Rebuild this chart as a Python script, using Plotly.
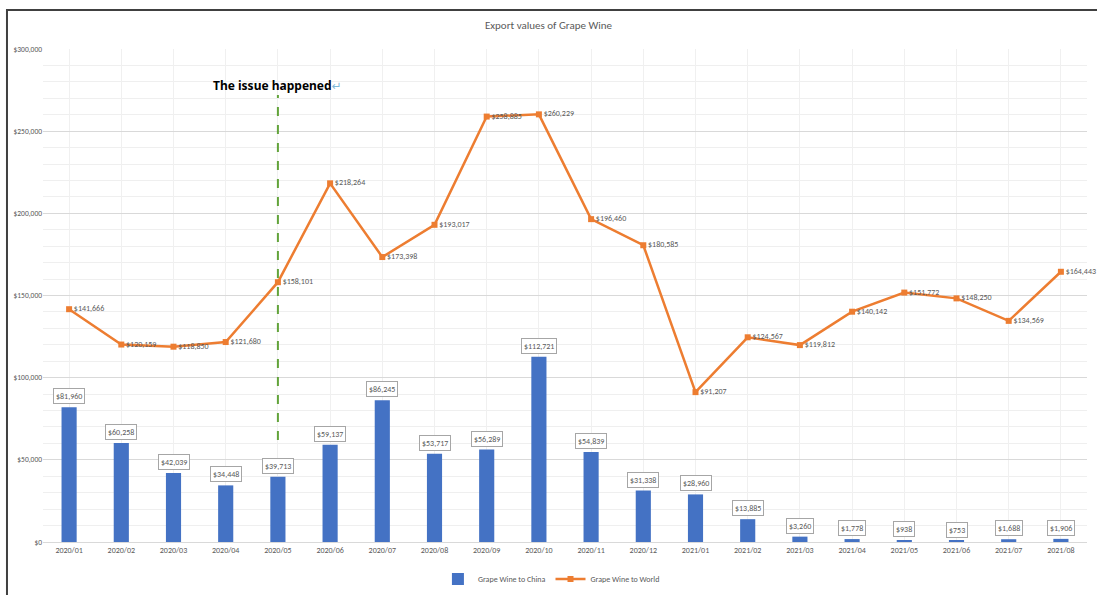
import plotly.graph_objects as go

months = ["2020/01", "2020/02", "2020/03", "2020/04", "2020/05", "2020/06", "2020/07",
          "2020/08", "2020/09", "2020/10", "2020/11", "2020/12", "2021/01", "2021/02",
          "2021/03", "2021/04", "2021/05", "2021/06", "2021/07", "2021/08"]
china = [81960, 60258, 42039, 34448, 39713, 59137, 86245, 53717, 56289, 112721,
         54839, 31338, 28960, 13885, 3260, 1778, 938, 753, 1688, 1906]
world = [141666, 120159, 118850, 121680, 158101, 218264, 173398, 193017, 258885, 260229,
         196460, 180585, 91207, 124567, 119812, 140142, 151772, 148250, 134569, 164443]
event_month = "2020/05"
event_text = "The issue happened"

FONT = "Carlito, Calibri, Liberation Sans"
GREY = "#595959"

fig = go.Figure()
fig.add_trace(go.Bar(
    x=months, y=china, name="Grape Wine to China",
    marker=dict(color="#4472C4", line=dict(width=0)), width=0.29,
))
fig.add_trace(go.Scatter(
    x=months, y=world, name="Grape Wine to World",
    mode="lines+markers+text",
    line=dict(color="#ED7D31", width=2.5),
    marker=dict(symbol="square", size=6, color="#ED7D31"),
    text=[f"${v:,}" for v in world], textposition="middle right",
    textfont=dict(family=FONT, size=8, color=GREY),
    cliponaxis=False,
))

for m, v in zip(months, china):
    fig.add_annotation(
        x=m, y=v, text=f"${v:,}", showarrow=False, yanchor="bottom", yshift=3,
        font=dict(family=FONT, size=8, color=GREY),
        bordercolor="#a6a6a6", borderwidth=1, borderpad=2, bgcolor="white",
    )

fig.add_shape(type="line", xref="x", yref="y", x0=event_month, x1=event_month,
              y0=62000, y1=272000, line=dict(color="#62A33A", width=2, dash="dash"))
fig.add_annotation(
    x=event_month, y=277500, xref="x", yref="y", showarrow=False,
    text=f"<b>{event_text}</b><span style='color:#7fb8d8'>↵</span>",
    font=dict(family="Noto Sans, DejaVu Sans", size=12, color="black"),
)

# outer frame
fig.add_shape(type="rect", xref="paper", yref="paper", x0=-0.0345, x1=1.2, y0=-0.3, y1=1.079,
              line=dict(color="#404040", width=2), layer="above")

fig.update_layout(
    width=1097, height=595,
    margin=dict(l=43, r=10, t=49, b=53, autoexpand=False),
    paper_bgcolor="white", plot_bgcolor="white",
    title=dict(text="Export values of Grape Wine", x=0.5, xanchor="center",
               y=1 - 25 / 595, yanchor="middle",
               font=dict(family=FONT, size=11, color=GREY)),
    showlegend=True,
    legend=dict(orientation="h", x=0.487, xanchor="center", y=-0.075, yanchor="middle",
                font=dict(family=FONT, size=8, color=GREY), traceorder="normal",
                itemwidth=30),
    bargap=0.7,
)
fig.update_xaxes(
    type="category", range=[-0.5, 19.5], automargin=False,
    showgrid=True, gridcolor="#f0f0f0", gridwidth=1,
    tickfont=dict(family=FONT, size=8, color=GREY), ticks="",
    showline=True, linecolor="#d9d9d9", linewidth=1,
)
fig.update_yaxes(
    range=[0, 300000], dtick=50000, tickprefix="$", tickformat=",", automargin=False,
    showgrid=True, gridcolor="#d9d9d9", gridwidth=1, zeroline=False,
    tickfont=dict(family=FONT, size=7.5, color=GREY), ticks="",
    minor=dict(dtick=10000, showgrid=True, gridcolor="#efefef", gridwidth=1),
)

fig.write_html("out.html")
